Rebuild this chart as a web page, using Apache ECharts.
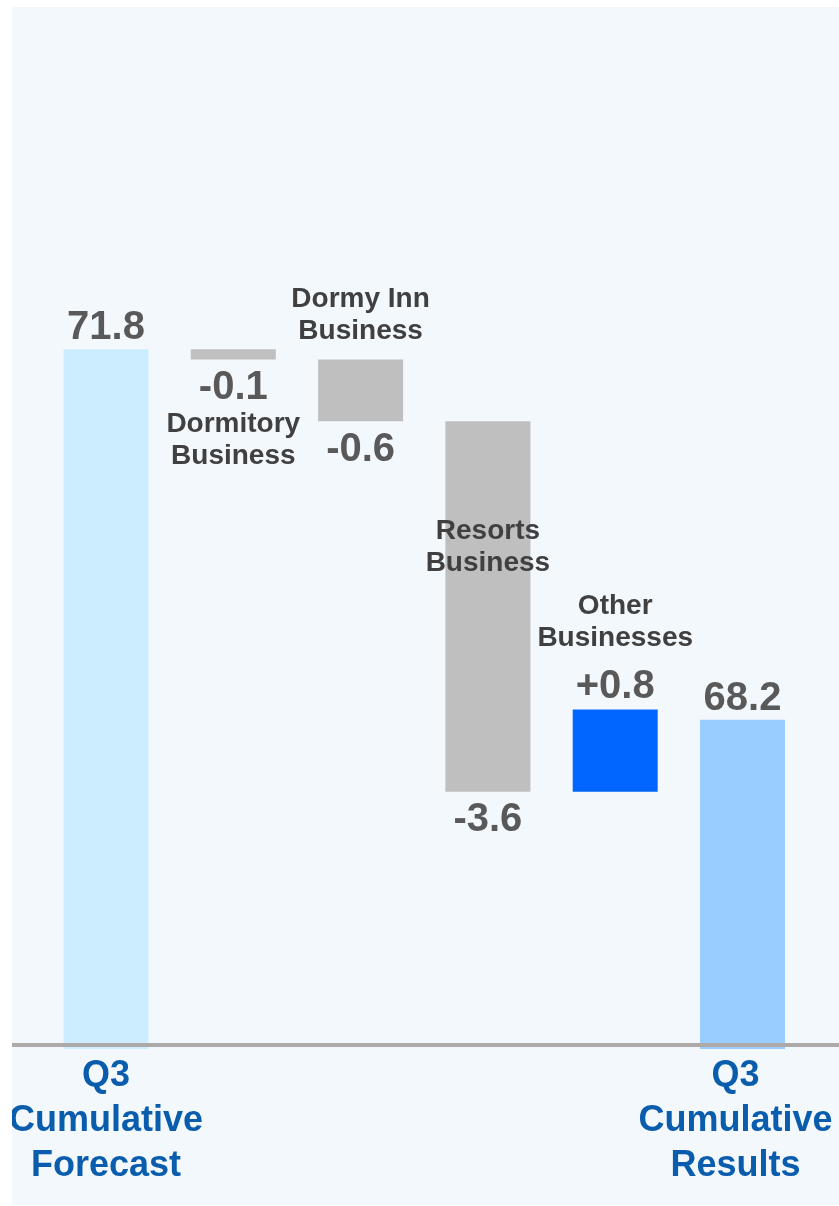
<!DOCTYPE html>
<html>
<head>
<meta charset="utf-8">
<script src="https://cdn.jsdelivr.net/npm/echarts@6/dist/echarts.min.js"></script>
<style>
  html, body { margin: 0; padding: 0; background: #ffffff; }
  #chart { position: absolute; left: 12px; top: 7px; width: 827px; height: 1198px; background: #F3F8FC; }
</style>
</head>
<body>
<div id="chart"></div>
<script>
// Bridge from the Q3 cumulative forecast to the Q3 cumulative results
const categories = ['Q3\nCumulative\nForecast', 'Dormitory\nBusiness', 'Dormy Inn\nBusiness',
                    'Resorts\nBusiness', 'Other\nBusinesses', 'Q3\nCumulative\nResults'];
const startTotal = 71.8;
const changes = [-0.1, -0.6, -3.6, 0.8];
const endTotal = 68.2;

const FONT = '"Liberation Sans", Arial, sans-serif';
const VALUE_COLOR = '#595959';
const NAME_COLOR = '#404040';
const AXIS_BLUE = '#0A5DAD';

const round1 = v => Math.round(v * 10) / 10;

// Invisible lower segment + visible step for each category
const baseVals = [0];
const stepVals = [startTotal];
const signedVals = [startTotal];
let level = startTotal;
changes.forEach(d => {
  const next = round1(level + d);
  baseVals.push(Math.min(level, next));
  stepVals.push(Math.abs(d));
  signedVals.push(d);
  level = next;
});
baseVals.push(0);
stepVals.push(endTotal);
signedVals.push(endTotal);

const last = categories.length - 1;
const fmtChange = v => (v > 0 ? '+' : '') + v.toFixed(1);
const barColor = i => {
  if (i === 0) return '#CCECFF';
  if (i === last) return '#99CCFF';
  return signedVals[i] < 0 ? '#BFBFBF' : '#0066FF';
};

const valueText = { fontFamily: FONT, fontWeight: 'bold', fontSize: 40, lineHeight: 40, color: VALUE_COLOR };
const nameText = { fontFamily: FONT, fontWeight: 'bold', fontSize: 28, lineHeight: 32, color: NAME_COLOR };
const spacer = { fontSize: 1, lineHeight: 13 };
const nameLines = i => categories[i].split('\n').map(s => '{n|' + s + '}').join('\n');

// Labels attached to the visible steps
const stepLabel = i => {
  if (i === 0 || i === last) {
    return { show: true, position: 'top', distance: 1, formatter: signedVals[i].toFixed(1), ...valueText };
  }
  if (i === 1) {
    return { show: true, position: 'bottom', distance: 8,
      formatter: '{v|' + fmtChange(signedVals[i]) + '}\n' + nameLines(i),
      rich: { v: valueText, n: { ...nameText, padding: [2, 0, 0, 0] } } };
  }
  if (i === 2) {
    return { show: true, position: 'top', distance: 12,
      formatter: nameLines(i), rich: { n: nameText } };
  }
  if (i === 3) {
    return { show: true, position: 'insideTop', distance: 94,
      formatter: nameLines(i), rich: { n: nameText } };
  }
  return { show: true, position: 'top', distance: 2,
    formatter: nameLines(i) + '\n{s|\u00a0}\n{v|' + fmtChange(signedVals[i]) + '}',
    rich: { n: nameText, s: spacer, v: valueText } };
};

// Value labels hung below the steps of the 2nd and 3rd changes
const baseLabel = i => {
  if (i === 2 || i === 3) {
    return { show: true, position: 'insideTop', distance: i === 2 ? 9 : 8,
      formatter: fmtChange(signedVals[i]), ...valueText };
  }
  return { show: false };
};

const chart = echarts.init(document.getElementById('chart'), null, { renderer: 'canvas' });

chart.setOption({
  animation: false,
  grid: [
    { left: 30.35, right: 32.85, top: 13, bottom: 156, containLabel: false, outerBoundsMode: 'none' },
    { left: 0, right: 0, top: 13, bottom: 160.5, containLabel: false, outerBoundsMode: 'none' }
  ],
  xAxis: [
    {
      gridIndex: 0,
      type: 'category',
      data: categories.map((c, i) => i === last
        ? { value: c, textStyle: { padding: [0, 14, 0, 0] } }
        : c),
      axisLine: { show: false },
      axisTick: { show: false },
      splitLine: { show: false },
      axisLabel: {
        interval: 0,
        margin: 5,
        hideOverlap: false,
        formatter: (v, i) => (i === 0 || i === last) ? v : '',
        fontFamily: FONT,
        fontWeight: 'bold',
        fontSize: 36,
        lineHeight: 45,
        color: AXIS_BLUE
      }
    },
    {
      gridIndex: 1,
      type: 'value',
      min: 0,
      max: 1,
      z: 10,
      axisLine: { show: true, onZero: false, lineStyle: { color: '#ADAAA9', width: 4 } },
      axisTick: { show: false },
      axisLabel: { show: false },
      splitLine: { show: false }
    }
  ],
  yAxis: [
    { gridIndex: 0, type: 'value', min: 65, max: 75, show: false, splitLine: { show: false } },
    { gridIndex: 1, type: 'value', min: 0, max: 1, show: false, splitLine: { show: false } }
  ],
  series: [
    {
      name: 'base',
      type: 'bar',
      stack: 'bridge',
      barWidth: 85,
      clip: true,
      silent: true,
      itemStyle: { color: 'rgba(0,0,0,0)' },
      emphasis: { disabled: true },
      data: baseVals.map((v, i) => ({ value: v, label: baseLabel(i) }))
    },
    {
      name: 'step',
      type: 'bar',
      stack: 'bridge',
      barWidth: 85,
      clip: true,
      silent: true,
      emphasis: { disabled: true },
      data: stepVals.map((v, i) => ({
        value: v,
        itemStyle: { color: barColor(i) },
        label: stepLabel(i)
      }))
    }
  ]
});
</script>
</body>
</html>
